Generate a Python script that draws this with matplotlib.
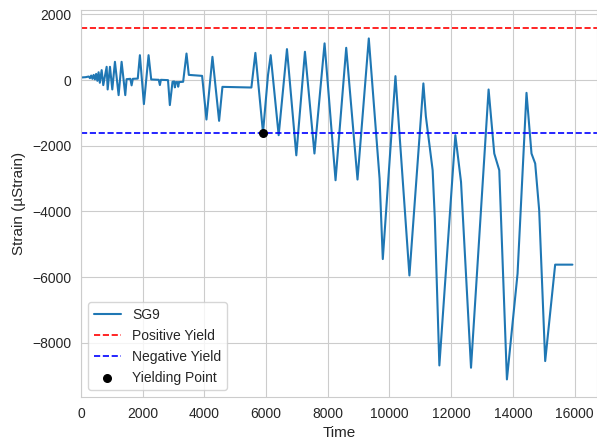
import matplotlib
matplotlib.use("Agg")
import matplotlib.pyplot as plt
import seaborn as sns
import numpy as np

# SG9 strain history
time = [0, 150, 250, 290, 330, 370, 410, 450, 490, 530, 570, 610, 669, 722, 831, 864,
        939, 1014, 1100, 1219, 1316, 1435, 1478, 1600, 1640, 1680, 1840, 1909, 2039,
        2190, 2276, 2520, 2557, 2590, 2820, 2880, 2967, 3020, 3042, 3080, 3130, 3150,
        3180, 3311, 3420, 3495, 3926, 4067, 4261, 4477, 4585, 5524, 5653, 5900, 6062,
        6149, 6408, 6677, 6980, 7260, 7568, 7896, 8252, 8598, 8964, 9330, 9680, 9784,
        10194, 10647, 11100, 11180, 11400, 11470, 11618, 12136, 12320, 12644, 13214,
        13398, 13560, 13808, 14153, 14443, 14605, 14725, 14854, 15049, 15372, 15932]
strain = [80, 90, 110, 60, 140, 40, 160, 20, 190, -20, 240, -80, 305, -152, 406, -284,
          406, -284, 558, -457, 558, -457, 30, 40, -160, 40, 47, 760, -730,
          760, 20, 10, -150, 10, 0, -760, -50, -40, -220, -60, -60, -200,
          -60, -50, 810, 160, 130, -1200, 710, -1240, -205, -225, 830, -1600, 152,
          760, -1677, 945, -2290, 864, -2235, 1120, -3049, 985, -3028, 1270, -3000, -5450,
          122, -5950, -100, -1100, -2744, -4200, -8690, -1677, -3100, -8760, -285,
          -2235, -2744, -9116, -5894, -387, -2235, -2540, -3963, -8557, -5620, -5620]

positive_yield = 1600
negative_yield = -1600
yield_time = [5900]
yield_strain = [-1600]

sns.set_style("whitegrid")
plt.rcParams["font.family"] = ["Liberation Sans", "DejaVu Sans"]
plt.rcParams["font.size"] = 10

fig = plt.figure(figsize=(5.97, 4.43), dpi=100)
ax = fig.add_axes([0.1357, 0.1038, 0.8643, 0.8736])

ax.plot(time, strain, color="#1f77b4", lw=1.5, label="SG9")
ax.axhline(positive_yield, color="red", ls="--", lw=1.2, label="Positive Yield")
ax.axhline(negative_yield, color="blue", ls="--", lw=1.2, label="Negative Yield")
ax.scatter(yield_time, yield_strain, color="black", s=30, zorder=5, label="Yielding Point")

ax.set_xlim(left=0)
ax.set_xlabel("Time", fontsize=11)
ax.set_ylabel("Strain (µStrain)", fontsize=11)
ax.tick_params(labelsize=10)
ax.legend(loc="lower left", fontsize=10)

fig.savefig("out.png", dpi=100)
